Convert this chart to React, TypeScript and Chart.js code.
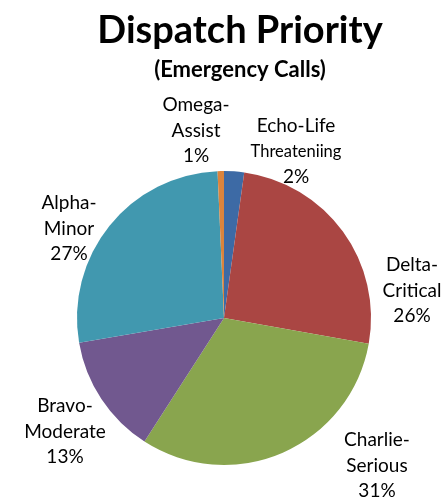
import React, { useEffect, useRef } from "react";
import { Chart, registerables } from "chart.js";

Chart.register(...registerables);

const categories = [
  "Echo-Life\nThreateniing",
  "Delta-\nCritical",
  "Charlie-\nSerious",
  "Bravo-\nModerate",
  "Alpha-\nMinor",
  "Omega-\nAssist",
];
const values = [2.2, 25.6, 31.3, 13.2, 27.0, 0.7];
const colors = ["#3D6AA5", "#AA4643", "#89A54E", "#71588F", "#4198AF", "#DB843D"];
const titleText = "Dispatch Priority";
const subtitleText = "(Emergency Calls)";

// label centre positions (x, y of first line)
const labelPos: [number, number][] = [
  [296, 126],
  [412, 265],
  [377, 440],
  [65, 406],
  [69, 203],
  [196, 105],
];

const FONT = "Lato, 'Open Sans', sans-serif";

const labelPlugin = {
  id: "customLabels",
  afterDraw(chart: any) {
    const ctx = chart.ctx as CanvasRenderingContext2D;
    ctx.save();
    ctx.fillStyle = "#000";
    ctx.textAlign = "center";
    ctx.textBaseline = "middle";
    ctx.font = `bold 38px ${FONT}`;
    ctx.fillText(titleText, 240, 31);
    ctx.font = `bold 22px ${FONT}`;
    ctx.fillText(subtitleText, 240, 70);

    const total = values.reduce((a, b) => a + b, 0);
    categories.forEach((cat, i) => {
      const [x, y] = labelPos[i];
      const lines = cat.split("\n");
      const pct = Math.round((values[i] / total) * 100) + "%";
      const all = [...lines, pct];
      all.forEach((ln, j) => {
        const small = ln === "Threateniing";
        ctx.font = `${small ? 16.5 : 19}px ${FONT}`;
        ctx.fillText(ln, x, y + j * 25.5);
      });
    });
    ctx.restore();
  },
};

export default function App() {
  const ref = useRef<HTMLCanvasElement | null>(null);
  useEffect(() => {
    document.body.style.margin = "0";
    const chart = new Chart(ref.current!, {
      type: "pie",
      data: {
        labels: categories,
        datasets: [
          {
            data: values,
            backgroundColor: colors,
            borderWidth: 0,
          },
        ],
      },
      options: {
        animation: false,
        responsive: false,
        devicePixelRatio: 1,
        layout: { padding: { left: 77, right: 72, top: 171, bottom: 32 } },
        plugins: { legend: { display: false }, tooltip: { enabled: false }, title: { display: false } },
      },
      plugins: [labelPlugin],
    });
    return () => chart.destroy();
  }, []);
  return (
    <div style={{ width: 443, height: 497, background: "#fff" }}>
      <canvas ref={ref} width={443} height={497} />
    </div>
  );
}
